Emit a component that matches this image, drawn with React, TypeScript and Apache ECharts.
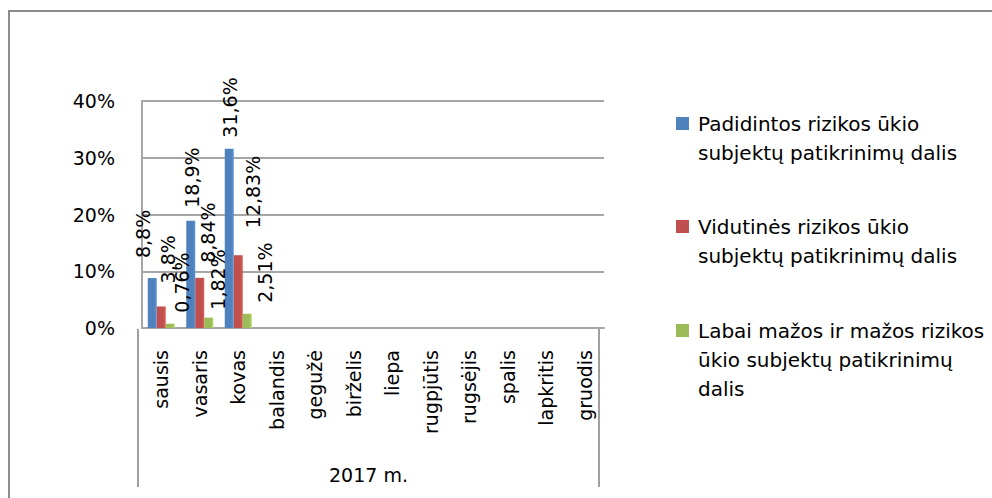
import React, { useEffect, useRef } from "react";
import * as echarts from "echarts";

const categories = ["sausis", "vasaris", "kovas", "balandis", "gegužė", "birželis", "liepa", "rugpjūtis", "rugsėjis", "spalis", "lapkritis", "gruodis"];
const seriesNames = [
  "Padidintos rizikos ūkio subjektų patikrinimų dalis",
  "Vidutinės rizikos ūkio subjektų patikrinimų dalis",
  "Labai mažos ir mažos rizikos ūkio subjektų patikrinimų dalis",
];
const legendWrapped = [
  "Padidintos rizikos ūkio\nsubjektų patikrinimų dalis",
  "Vidutinės rizikos ūkio\nsubjektų patikrinimų dalis",
  "Labai mažos ir mažos rizikos\nūkio subjektų patikrinimų\ndalis",
];
const highRisk = [0.088, 0.189, 0.316];
const mediumRisk = [0.038, 0.0884, 0.1283];
const lowRisk = [0.0076, 0.0182, 0.0251];
const highLabels = ["8,8%", "18,9%", "31,6%"];
const mediumLabels = ["3,8%", "8,84%", "12,83%"];
const lowLabels = ["0,76%", "1,82%", "2,51%"];
const yTicks = ["0%", "10%", "20%", "30%", "40%"];
const groupLabel = "2017 m.";

// label placement (style): [up, right] in the rotated label's frame
const highShift = [[20, -9], [13, 1], [11, 1]];
const mediumShift = [[23, 7], [15, 8], [27, 15]];
const lowShift = [[11, 12], [8, 9], [11, 18]];

const FONT = "DejaVu Sans";
const colors = ["#4f81bd", "#c0504d", "#9bbb59"];

export default function App() {
  const ref = useRef<HTMLDivElement>(null);
  useEffect(() => {
    if (!ref.current) return;
    const chart = echarts.init(ref.current, undefined, { renderer: "svg" });
    const icon2 = "path://M0,0H13V13H0ZM16.99,41.99H17V42H16.99Z";
    const icon3 = "path://M0,0H13V13H0ZM16.99,70.99H17V71H16.99Z";
    const mkLegend = (i: number, top: number, icon: string, h: number) => ({
      data: [seriesNames[i]],
      left: 676,
      top,
      orient: "vertical",
      padding: 0,
      icon,
      itemWidth: 17,
      itemHeight: h,
      selectedMode: false,
      formatter: () => legendWrapped[i],
      textStyle: { fontFamily: FONT, fontSize: 20, lineHeight: 29, color: "#000" },
    });
    const mkSeries = (i: number, values: number[], labels: string[], shifts: number[][]) => ({
      name: seriesNames[i],
      type: "bar",
      data: values.map((v, j) => ({ value: v, label: { offset: shifts[j] } })),
      barWidth: 9,
      barGap: "0%",
      itemStyle: {
        color: new echarts.graphic.LinearGradient(0, 0, 1, 0, [
          { offset: 0, color: colors[i] },
          { offset: 0.7, color: colors[i] },
          { offset: 1, color: echarts.color.lift(colors[i], -0.15) },
        ]),
      },
      label: {
        show: true,
        position: "top",
        rotate: 90,
        align: "left",
        verticalAlign: "middle",
        distance: 0,
        fontFamily: FONT,
        fontSize: 19,
        color: "#000",
        formatter: (p: any) => labels[p.dataIndex],
      },
    });
    chart.setOption({
      animation: false,
      backgroundColor: "#fff",
      grid: { left: 142, right: 388, top: 101, bottom: 170 },
      legend: [mkLegend(0, 109, icon2, 42), mkLegend(1, 212, icon2, 42), mkLegend(2, 316, icon3, 71)],
      xAxis: {
        type: "category",
        data: categories,
        axisLine: { show: true, lineStyle: { color: "#a6a6a6", width: 2 } },
        axisTick: { show: false },
        axisLabel: {
          rotate: 90,
          interval: 0,
          margin: 22,
          fontFamily: FONT,
          fontSize: 19,
          color: "#000",
        },
      },
      yAxis: {
        type: "value",
        min: 0,
        max: 0.4,
        interval: 0.1,
        axisLine: { show: true, lineStyle: { color: "#a6a6a6", width: 2 } },
        axisTick: { show: false },
        splitLine: { lineStyle: { color: "#a6a6a6", width: 2 } },
        axisLabel: {
          margin: 27,
          fontFamily: FONT,
          fontSize: 19,
          color: "#000",
          formatter: (v: number) => yTicks[Math.round(v * 10)],
        },
      },
      series: [
        mkSeries(0, highRisk, highLabels, highShift),
        mkSeries(1, mediumRisk, mediumLabels, mediumShift),
        mkSeries(2, lowRisk, lowLabels, lowShift),
      ],
      graphic: [
        { type: "rect", shape: { x: 9, y: 11, width: 1000, height: 600 }, style: { fill: "none", stroke: "#8c8c8c", lineWidth: 2 }, silent: true },
        { type: "line", shape: { x1: 138, y1: 329, x2: 138, y2: 487 }, style: { stroke: "#a0a0a0", lineWidth: 2 } },
        { type: "line", shape: { x1: 599, y1: 329, x2: 599, y2: 487 }, style: { stroke: "#a0a0a0", lineWidth: 2 } },
        { type: "text", left: 329, top: 465, style: { text: groupLabel, fontFamily: FONT, fontSize: 19, fill: "#000" } },
      ],
    });
    return () => chart.dispose();
  }, []);
  return <div ref={ref} style={{ position: "fixed", left: 0, top: 0, width: 992, height: 498 }} />;
}
